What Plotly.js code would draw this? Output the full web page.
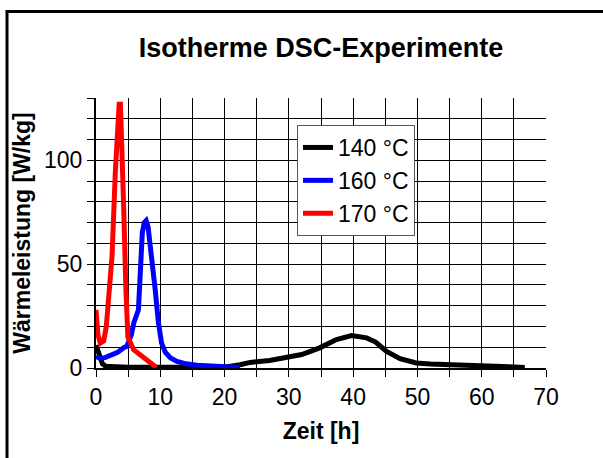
<!DOCTYPE html>
<html>
<head>
<meta charset="utf-8">
<script src="https://cdn.plot.ly/plotly-3.0.1.min.js"></script>
<style>
html,body{margin:0;padding:0;background:#fff;}
#chart{width:603px;height:458px;}
</style>
</head>
<body>
<div id="chart"></div>
<script>
// 140 °C
const t140 = [0, 0.4, 0.7, 1.0, 1.5, 3, 5, 10, 15, 20, 22.4, 24, 27, 29.6, 32, 34.8, 37.4, 39.75, 42.1, 43.5, 45.2, 47.3, 49.8, 52, 55, 60.2, 66.7];
const p140 = [11, 7, 4, 2, 0.8, 0.5, 0.4, 0.4, 0.4, 0.4, 1.6, 2.7, 3.6, 4.8, 6.5, 9.7, 13.7, 15.6, 14.5, 12.5, 8, 4.5, 2.4, 1.9, 1.6, 1.1, 0.3];
// 160 °C
const t160 = [0, 0.5, 1.4, 2.5, 3.3, 4.3, 4.8, 5.5, 5.9, 6.6, 6.9, 7.2, 7.5, 7.8, 8.1, 8.7, 9.2, 9.7, 10.2, 10.8, 11.6, 12.6, 14, 15.7, 18, 20, 22.4];
const p160 = [5.6, 4.8, 5, 6.2, 7.4, 9.8, 10.4, 16, 22, 28, 45, 65, 70, 71, 68, 54, 38, 22, 12, 7.5, 4.8, 3.2, 2, 1.3, 0.8, 0.5, 0.3];
// 170 °C
const t170 = [0, 0.3, 0.67, 1.2, 1.6, 1.9, 2.2, 2.5, 3.0, 3.4, 3.6, 3.8, 4.03, 4.3, 4.65, 4.96, 5.85, 7.1, 8.4, 9.4];
const p170 = [28, 16, 12, 13, 20, 30, 42, 54, 94, 121, 127, 127, 110, 78, 38, 15, 8.8, 5.6, 2.5, 0.3];

const seriesNames = ['140 °C', '160 °C', '170 °C'];
const seriesColors = ['#000000', '#0000ff', '#ff0000'];

const xTickVals = [0, 5, 10, 15, 20, 25, 30, 35, 40, 45, 50, 55, 60, 65, 70];
const xTickText = ['0', '', '10', '', '20', '', '30', '', '40', '', '50', '', '60', '', '70'];
const yTickVals = [0, 10, 20, 30, 40, 50, 60, 70, 80, 90, 100, 110, 120, 130];
const yTickText = ['0', '', '', '', '', '50', '', '', '', '', '100', '', '', ''];

const FONT = 'Liberation Sans, Arial, sans-serif';
const xs = [t140, t160, t170];
const ys = [p140, p160, p170];

const traces = xs.map((x, i) => ({
  x: x, y: ys[i], type: 'scatter', mode: 'lines', name: seriesNames[i],
  line: {color: seriesColors[i], width: 5}
}));

const L = 96, R = 546, T = 98, B = 368;
const pw = R - L, ph = B - T;

const layout = {
  width: 603, height: 458,
  margin: {l: L, r: 603 - R, t: T, b: 458 - B, pad: 0},
  paper_bgcolor: '#fff', plot_bgcolor: '#fff',
  font: {family: FONT, size: 23, color: '#000'},
  title: {text: '<b>Isotherme DSC-Experimente</b>', font: {family: FONT, size: 27, color: '#000'},
          x: 0.5, xref: 'paper', xanchor: 'center', y: 1 - 48 / 458, yanchor: 'middle'},
  xaxis: {
    range: [0, 70], tickvals: xTickVals, ticktext: xTickText,
    showgrid: true, gridcolor: '#000', gridwidth: 1,
    showline: true, linecolor: '#000', linewidth: 2,
    ticks: 'outside', ticklen: 7, tickcolor: '#000', tickwidth: 1,
    zeroline: false, tickfont: {size: 23},
    title: {text: '<b>Zeit [h]</b>', font: {size: 23}, standoff: 14}
  },
  yaxis: {
    range: [0, 130], tickvals: yTickVals, ticktext: yTickText,
    showgrid: true, gridcolor: '#000', gridwidth: 1,
    showline: true, linecolor: '#000', linewidth: 2,
    ticks: 'outside', ticklen: 7, tickcolor: '#000', tickwidth: 1,
    zeroline: false, tickfont: {size: 23},
    title: {text: '<b>Wärmeleistung [W/kg]</b>', font: {size: 23}, standoff: 7}
  },
  legend: {
    x: (297 - L) / pw, y: (B - 125) / ph, xanchor: 'left', yanchor: 'top',
    bgcolor: '#fff', bordercolor: '#555', borderwidth: 1,
    font: {size: 23}, tracegroupgap: 0
  },
  shapes: [{
    type: 'rect', xref: 'paper', yref: 'paper', layer: 'above',
    x0: (7 - L) / pw, x1: (615 - L) / pw, y0: (B - 475) / ph, y1: (B - 11.5) / ph,
    line: {color: '#000', width: 3}, fillcolor: 'rgba(0,0,0,0)'
  }],
  showlegend: true
};

Plotly.newPlot('chart', traces, layout, {staticPlot: true, displayModeBar: false});
</script>
</body>
</html>
